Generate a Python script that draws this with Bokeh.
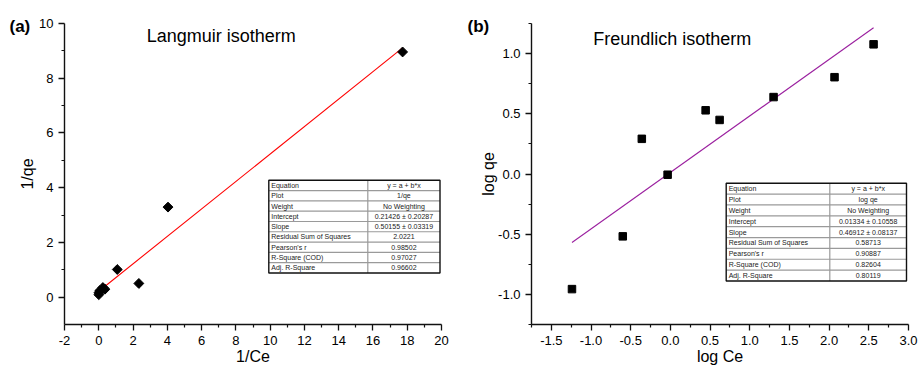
import numpy as np
from bokeh.plotting import figure
from bokeh.models import Range1d, FixedTicker, Title, NumeralTickFormatter
from bokeh.layouts import row
from bokeh.embed import file_html
from bokeh.resources import INLINE
from bokeh.core.properties import value

# ---------------- data ----------------
lang_inv_ce = [17.73, 4.04, 2.34, 1.08, 0.36, 0.24, 0.05, 0.01, 0.003]
lang_inv_qe = [8.96, 3.29, 0.50, 1.01, 0.29, 0.35, 0.23, 0.16, 0.09]
lang_intercept = 0.21426
lang_slope = 0.50155

fr_log_ce = [-1.24, -0.60, -0.36, -0.035, 0.444, 0.62, 1.30, 2.068, 2.56]
fr_log_qe = [-0.956, -0.518, 0.292, -0.006, 0.529, 0.449, 0.639, 0.804, 1.077]
fr_intercept = 0.01334
fr_slope = 0.46912

table_rows = ["Equation", "Plot", "Weight", "Intercept", "Slope",
              "Residual Sum of Squares", "Pearson's r", "R-Square (COD)", "Adj. R-Square"]
lang_table_vals = ["y = a + b*x", "1/qe", "No Weighting", "0.21426 \u00b1 0.20287",
                   "0.50155 \u00b1 0.03319", "2.0221", "0.98502", "0.97027", "0.96602"]
fr_table_vals = ["y = a + b*x", "log qe", "No Weighting", "0.01334 \u00b1 0.10558",
                 "0.46912 \u00b1 0.08137", "0.58713", "0.90887", "0.82604", "0.80119"]

lang_xticks = [-2, 0, 2, 4, 6, 8, 10, 12, 14, 16, 18, 20]
lang_xminor = [-1, 1, 3, 5, 7, 9, 11, 13, 15, 17, 19]
lang_yticks = [0, 2, 4, 6, 8, 10]
lang_yminor = [1, 3, 5, 7, 9]
fr_xticks = [-1.5, -1.0, -0.5, 0.0, 0.5, 1.0, 1.5, 2.0, 2.5, 3.0]
fr_xminor = [-1.75, -1.25, -0.75, -0.25, 0.25, 0.75, 1.25, 1.75, 2.25, 2.75]
fr_yticks = [-1.0, -0.5, 0.0, 0.5, 1.0]
fr_yminor = [-1.25, -0.75, -0.25, 0.25, 0.75, 1.25]

FONT = "Liberation Sans"
H = 369


def make_fig(width, b_left, frame_w, b_top, frame_h, xr, yr):
    p = figure(width=width, height=H, x_range=Range1d(*xr), y_range=Range1d(*yr),
               output_backend="svg", toolbar_location=None, title=None,
               min_border_left=b_left, min_border_right=width - b_left - frame_w,
               min_border_top=b_top, min_border_bottom=H - b_top - frame_h)
    p.outline_line_color = None
    p.xgrid.grid_line_color = None
    p.ygrid.grid_line_color = None
    p.background_fill_color = "white"
    p.border_fill_color = "white"
    for ax in p.axis:
        ax.axis_line_color = "#111111"
        ax.axis_line_width = 1.4
        ax.major_tick_line_color = "#111111"
        ax.major_tick_line_width = 1.3
        ax.minor_tick_line_color = "#111111"
        ax.minor_tick_line_width = 1.2
        ax.major_tick_out = 6
        ax.major_tick_in = 0
        ax.minor_tick_out = 3
        ax.minor_tick_in = 0
        ax.major_label_text_font = FONT
        ax.major_label_text_font_size = "13px"
        ax.major_label_text_color = "black"
        ax.major_label_standoff = 5
        ax.axis_label_text_font = FONT
        ax.axis_label_text_font_size = "16px"
        ax.axis_label_text_font_style = "normal"
        ax.axis_label_text_color = "black"
    p.xaxis.axis_label_standoff = 0
    return p


def mapper(l, r, t, b, xr, yr):
    def f(px, py):
        x = xr[0] + (px - l) / (r - l) * (xr[1] - xr[0])
        y = yr[1] - (py - t) / (b - t) * (yr[1] - yr[0])
        return x, y
    return f


def add_table(p, m, left, right, top, bottom, div, vals):
    n = len(table_rows)
    rh = (bottom - top) / n
    xs0, ys0, xs1, ys1 = [], [], [], []
    for i in range(1, n):
        a = m(left, top + i * rh)
        b = m(right, top + i * rh)
        xs0.append(a[0]); ys0.append(a[1]); xs1.append(b[0]); ys1.append(b[1])
    a = m(div, top)
    b = m(div, bottom)
    xs0.append(a[0]); ys0.append(a[1]); xs1.append(b[0]); ys1.append(b[1])
    p.segment(x0=xs0, y0=ys0, x1=xs1, y1=ys1, line_color="#9a9a9a", line_width=1.2)
    tl = m(left, top)
    br = m(right, bottom)
    p.quad(left=[tl[0]], right=[br[0]], top=[tl[1]], bottom=[br[1]],
           fill_color=None, line_color="#111111", line_width=1.4)
    lx, ly, vx, vy = [], [], [], []
    for i in range(n):
        c = top + (i + 0.5) * rh
        a = m(left + 2.5, c)
        b = m((div + right) / 2, c)
        lx.append(a[0]); ly.append(a[1]); vx.append(b[0]); vy.append(b[1])
    p.text(x=lx, y=ly, text=table_rows, text_font=value(FONT), text_font_size="7px",
           text_align="left", text_baseline="middle", text_color="#222222")
    p.text(x=vx, y=vy, text=vals, text_font=value(FONT), text_font_size="7px",
           text_align="center", text_baseline="middle", text_color="#222222")


def panel_tag(p, text, offset):
    p.add_layout(Title(text=text, align="left", offset=offset, standoff=-24,
                       text_font=FONT, text_font_size="17px", text_font_style="bold",
                       text_color="black"), "above")


# ---------------- panel (a) ----------------
W1 = 460
xr1, yr1 = (-2, 20), (-1, 10)
p1 = make_fig(W1, 64, 377, 23, 302, xr1, yr1)
m1 = mapper(64, 441, 23, 325, xr1, yr1)
p1.xaxis.ticker = FixedTicker(ticks=lang_xticks, minor_ticks=lang_xminor)
p1.yaxis.ticker = FixedTicker(ticks=lang_yticks, minor_ticks=lang_yminor)
p1.xaxis.formatter = NumeralTickFormatter(format="0")
p1.yaxis.formatter = NumeralTickFormatter(format="0")
p1.yaxis.axis_label = "1/qe"
p1.yaxis.axis_label_standoff = 0
p1.xaxis.axis_label = "1/Ce"

lx = np.array([min(lang_inv_ce), max(lang_inv_ce)])
p1.line(lx, lang_intercept + lang_slope * lx, line_color="#ff0000", line_width=1.1)
p1.scatter(lang_inv_ce, lang_inv_qe, marker="square", size=7, angle=np.pi / 4,
           fill_color="black", line_color="black")

add_table(p1, m1, 268.3, 439.5, 180.3, 273.3, 367.3, lang_table_vals)

x, y = m1(220.7, 36)
p1.text(x=[x], y=[y], text=["Langmuir isotherm"], text_font=value(FONT),
        text_font_size="18px", text_align="center", text_baseline="middle", text_color="black")
panel_tag(p1, "(a)", -55)

# ---------------- panel (b) ----------------
W2 = 459
xr2, yr2 = (-1.75, 3.0), (-1.25, 1.25)
p2 = make_fig(W2, 71, 377, 22, 302, xr2, yr2)
m2 = mapper(71, 448, 22, 324, xr2, yr2)
p2.xaxis.ticker = FixedTicker(ticks=fr_xticks, minor_ticks=fr_xminor)
p2.yaxis.ticker = FixedTicker(ticks=fr_yticks, minor_ticks=fr_yminor)
p2.xaxis.formatter = NumeralTickFormatter(format="0.0")
p2.yaxis.formatter = NumeralTickFormatter(format="0.0")
p2.yaxis.axis_label = "log qe"
p2.yaxis.axis_label_standoff = -2
p2.xaxis.axis_label = "log Ce"

fx = np.array([min(fr_log_ce), max(fr_log_ce)])
p2.line(fx, fr_intercept + fr_slope * fx, line_color="#9b209f", line_width=1.1)
p2.scatter(fr_log_ce, fr_log_qe, marker="square", size=7.5,
           fill_color="black", line_color="black")

add_table(p2, m2, 265.7, 446, 182.3, 280.3, 369.3, fr_table_vals)

x, y = m2(211.7, 38)
p2.text(x=[x], y=[y], text=["Freundlich isotherm"], text_font=value(FONT),
        text_font_size="18px", text_align="center", text_baseline="middle", text_color="black")
panel_tag(p2, "(b)", -64)

layout = row(p1, p2)
open("out.html", "w").write(file_html(layout, INLINE))
